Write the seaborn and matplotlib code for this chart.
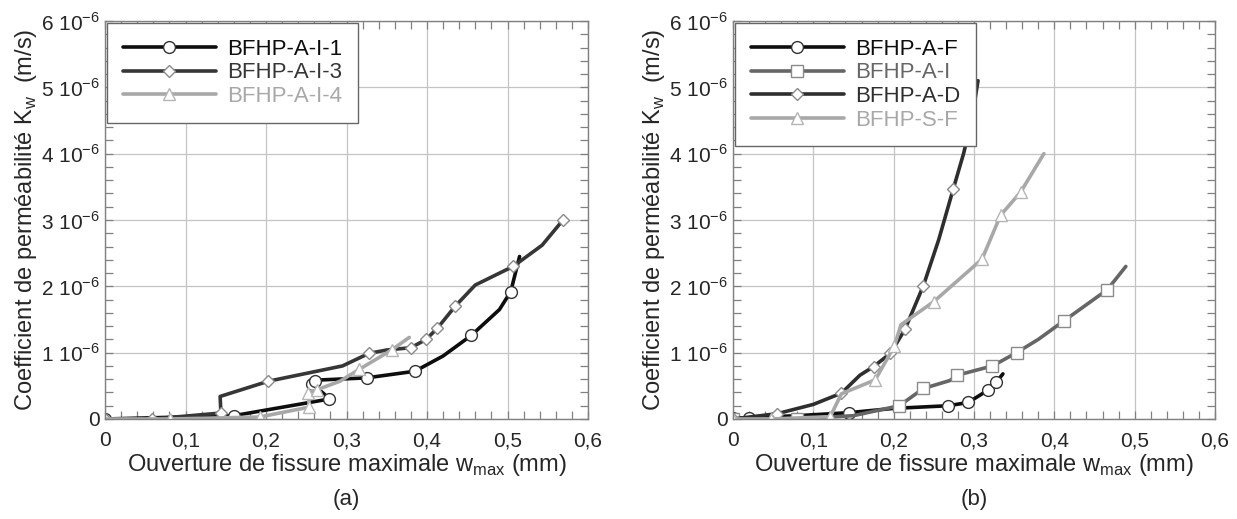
import matplotlib
matplotlib.use("Agg")
import matplotlib.pyplot as plt
from matplotlib.ticker import MultipleLocator, FuncFormatter
import seaborn as sns

# crack opening w_max (mm) and permeability K_w (in 1e-6 m/s)
# (a) BFHP-A-I specimens
w_ai1 = [0.0, 0.16, 0.278, 0.272, 0.257, 0.261, 0.27, 0.325, 0.385, 0.42, 0.455, 0.49, 0.504, 0.515]
k_ai1 = [0.0, 0.05, 0.30, 0.38, 0.53, 0.57, 0.59, 0.62, 0.72, 0.95, 1.26, 1.65, 1.92, 2.45]
m_ai1 = [0, 1, 2, 4, 5, 7, 8, 10, 12]

w_ai3 = [0.0, 0.059, 0.144, 0.143, 0.203, 0.295, 0.328, 0.35, 0.38, 0.399, 0.413, 0.435, 0.46, 0.507, 0.543, 0.569]
k_ai3 = [0.0, 0.0, 0.09, 0.34, 0.57, 0.80, 0.99, 1.04, 1.075, 1.2, 1.37, 1.70, 2.02, 2.30, 2.62, 3.0]
m_ai3 = [0, 1, 2, 4, 6, 8, 9, 10, 11, 13, 15]

w_ai4 = [0.0, 0.081, 0.192, 0.254, 0.252, 0.263, 0.292, 0.316, 0.356, 0.378]
k_ai4 = [0.0, 0.0, 0.03, 0.18, 0.39, 0.44, 0.57, 0.75, 1.04, 1.23]
m_ai4 = [1, 2, 3, 4, 5, 7, 8]

# (b) BFHP families
w_af = [0.0, 0.02, 0.08, 0.144, 0.2, 0.268, 0.293, 0.318, 0.328, 0.336]
k_af = [0.01, 0.02, 0.05, 0.095, 0.16, 0.20, 0.25, 0.44, 0.56, 0.68]
m_af = [0, 1, 3, 5, 6, 7, 8]

w_aiv = [0.0, 0.08, 0.15, 0.207, 0.237, 0.27, 0.279, 0.323, 0.353, 0.38, 0.412, 0.466, 0.489]
k_aiv = [0.0, 0.0, 0.05, 0.20, 0.46, 0.58, 0.66, 0.80, 1.0, 1.2, 1.48, 1.95, 2.3]
m_aiv = [0, 1, 3, 4, 6, 7, 8, 10, 11]

w_ad = [0.0, 0.055, 0.10, 0.135, 0.158, 0.175, 0.196, 0.214, 0.237, 0.256, 0.274, 0.287, 0.297, 0.305]
k_ad = [0.0, 0.08, 0.22, 0.39, 0.66, 0.79, 0.99, 1.35, 2.01, 2.7, 3.46, 4.0, 4.5, 5.1]
m_ad = [0, 1, 3, 5, 6, 7, 8, 10]

w_sf = [0.0, 0.047, 0.121, 0.135, 0.177, 0.201, 0.209, 0.25, 0.31, 0.333, 0.358, 0.387]
k_sf = [0.0, 0.0, 0.035, 0.38, 0.59, 1.10, 1.42, 1.77, 2.41, 3.07, 3.42, 4.0]
m_sf = [0, 1, 2, 4, 5, 7, 8, 9, 10]

sns.set_theme(style="white")
plt.rcParams['font.family'] = ['Liberation Sans', 'DejaVu Sans']
plt.rcParams['mathtext.fontset'] = 'custom'
plt.rcParams['mathtext.rm'] = 'Liberation Sans'

fig = plt.figure(figsize=(12.37, 5.19), dpi=100)
W, H = 1237, 519
ax1 = fig.add_axes([105 / W, 1 - 419 / H, 483 / W, 398 / H])
ax2 = fig.add_axes([733 / W, 1 - 419 / H, 482 / W, 398 / H])


def draw(ax, w, k, marks, color, marker, ms, mec, label):
    sns.lineplot(x=w, y=[v * 1e-6 for v in k], ax=ax, sort=False, estimator=None,
                 color=color, lw=2.6, marker=marker, markevery=marks, ms=ms,
                 markerfacecolor='white', mec=mec, mew=1.0, label=label)


draw(ax1, w_ai1, k_ai1, m_ai1, '#0d0d0d', 'o', 8.5, '#333333', 'BFHP-A-I-1')
draw(ax1, w_ai3, k_ai3, m_ai3, '#363636', 'D', 6.5, '#8a8a8a', 'BFHP-A-I-3')
draw(ax1, w_ai4, k_ai4, m_ai4, '#a8a8a8', '^', 8, '#b5b5b5', 'BFHP-A-I-4')

draw(ax2, w_af, k_af, m_af, '#0d0d0d', 'o', 8.5, '#333333', 'BFHP-A-F')
draw(ax2, w_aiv, k_aiv, m_aiv, '#666666', 's', 8, '#8a8a8a', 'BFHP-A-I')
draw(ax2, w_ad, k_ad, m_ad, '#2e2e2e', 'D', 6.5, '#8a8a8a', 'BFHP-A-D')
draw(ax2, w_sf, k_sf, m_sf, '#a8a8a8', '^', 8, '#b5b5b5', 'BFHP-S-F')


def yfmt(v, pos):
    n = int(round(v * 1e6))
    if n == 0:
        return '0'
    return r'%d 10$^{\mathregular{-6}}$' % n


def xfmt(v, pos):
    if abs(v) < 1e-9:
        return '0'
    return ('%.1f' % v).replace('.', ',')


legend_colors = [['#0d0d0d', '#363636', '#a8a8a8'],
                 ['#0d0d0d', '#666666', '#2e2e2e', '#a8a8a8']]

for ax, cols in zip([ax1, ax2], legend_colors):
    ax.set_xlim(0, 0.6)
    ax.set_ylim(0, 6e-6)
    ax.xaxis.set_major_locator(MultipleLocator(0.1))
    ax.xaxis.set_minor_locator(MultipleLocator(0.02))
    ax.yaxis.set_major_locator(MultipleLocator(1e-6))
    ax.yaxis.set_minor_locator(MultipleLocator(0.2e-6))
    ax.xaxis.set_major_formatter(FuncFormatter(xfmt))
    ax.yaxis.set_major_formatter(FuncFormatter(yfmt))
    ax.grid(True, which='major', color='#c4c4c4', lw=0.9)
    ax.tick_params(which='both', direction='in', top=True, right=True, bottom=True, left=True,
                   length=6, width=0.9, color='#808080', labelsize=15)
    ax.tick_params(axis='x', which='both', pad=9)
    ax.tick_params(axis='y', which='both', pad=4)
    for s in ax.spines.values():
        s.set_color('#808080')
        s.set_linewidth(1.0)
    ax.set_xlabel(r'Ouverture de fissure maximale w$_{\mathregular{max}}$ (mm)', fontsize=17, labelpad=1)
    ax.set_ylabel(r'Coefficient de perméabilité K$_{\mathregular{w}}$  (m/s)', fontsize=17, labelpad=1)
    leg = ax.legend(loc='upper left', bbox_to_anchor=(0.0, 1.0), borderaxespad=0.1,
                    fontsize=16, handlelength=4.2, handletextpad=0.5, labelspacing=0.12,
                    borderpad=0.7, fancybox=False, framealpha=1, edgecolor='#666666')
    leg.get_frame().set_linewidth(1.0)
    for t, c in zip(leg.get_texts(), cols):
        t.set_color(c)

fig.text((105 + 588) / 2 / W, 1 - 500 / H, '(a)', ha='center', va='center', fontsize=16)
fig.text((733 + 1215) / 2 / W, 1 - 500 / H, '(b)', ha='center', va='center', fontsize=16)

fig.savefig('out.png', dpi=100)
